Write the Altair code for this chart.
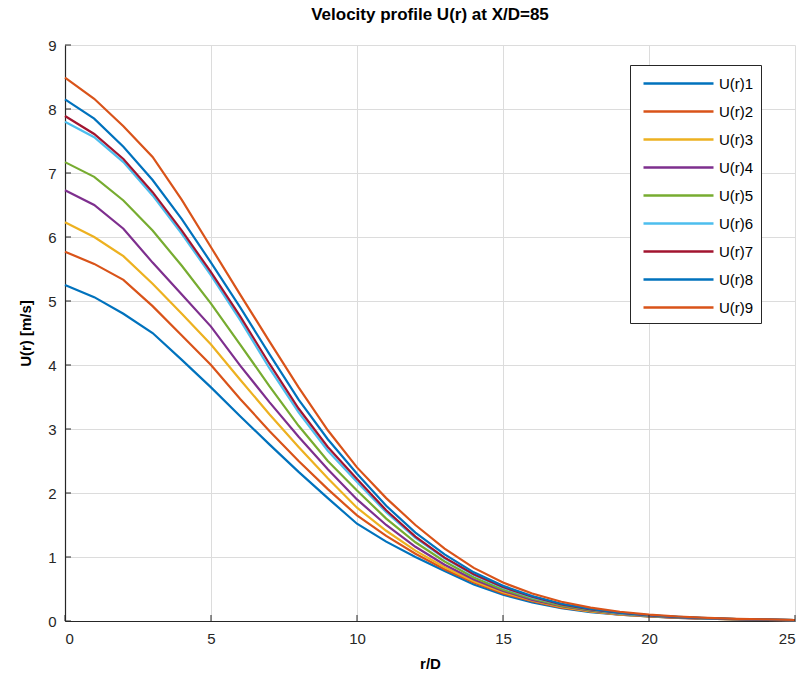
import altair as alt
import pandas as pd

r_vals = list(range(26))
series_names = ["U(r)1", "U(r)2", "U(r)3", "U(r)4", "U(r)5", "U(r)6", "U(r)7", "U(r)8", "U(r)9"]
u1 = [5.25, 5.06, 4.80, 4.50, 4.08, 3.65, 3.20, 2.76, 2.33, 1.92, 1.52, 1.24, 1.00, 0.78, 0.57, 0.41, 0.29, 0.20, 0.14, 0.10, 0.07, 0.05, 0.035, 0.025, 0.018, 0.012]
u2 = [5.77, 5.58, 5.33, 4.92, 4.46, 4.00, 3.47, 2.97, 2.50, 2.06, 1.65, 1.33, 1.05, 0.81, 0.60, 0.43, 0.31, 0.21, 0.15, 0.10, 0.07, 0.05, 0.036, 0.025, 0.018, 0.012]
u3 = [6.23, 6.00, 5.70, 5.27, 4.80, 4.32, 3.77, 3.23, 2.72, 2.23, 1.77, 1.41, 1.10, 0.84, 0.62, 0.45, 0.32, 0.22, 0.15, 0.105, 0.073, 0.052, 0.037, 0.026, 0.018, 0.013]
u4 = [6.73, 6.50, 6.13, 5.60, 5.10, 4.60, 3.99, 3.42, 2.88, 2.37, 1.90, 1.50, 1.16, 0.88, 0.65, 0.47, 0.33, 0.23, 0.16, 0.11, 0.076, 0.054, 0.038, 0.027, 0.019, 0.013]
u5 = [7.17, 6.94, 6.57, 6.10, 5.55, 4.96, 4.32, 3.67, 3.05, 2.50, 2.04, 1.60, 1.23, 0.93, 0.68, 0.49, 0.35, 0.24, 0.17, 0.115, 0.08, 0.056, 0.04, 0.028, 0.02, 0.014]
u6 = [7.80, 7.56, 7.17, 6.65, 6.05, 5.40, 4.70, 3.95, 3.26, 2.66, 2.17, 1.70, 1.30, 0.98, 0.72, 0.52, 0.37, 0.26, 0.18, 0.12, 0.085, 0.06, 0.042, 0.03, 0.021, 0.015]
u7 = [7.89, 7.61, 7.22, 6.70, 6.10, 5.45, 4.76, 4.02, 3.32, 2.72, 2.22, 1.73, 1.32, 0.99, 0.73, 0.53, 0.38, 0.26, 0.18, 0.125, 0.087, 0.061, 0.043, 0.03, 0.021, 0.015]
u8 = [8.15, 7.85, 7.41, 6.89, 6.28, 5.60, 4.90, 4.17, 3.46, 2.84, 2.30, 1.80, 1.38, 1.04, 0.76, 0.55, 0.39, 0.27, 0.19, 0.13, 0.09, 0.063, 0.044, 0.031, 0.022, 0.015]
u9 = [8.49, 8.16, 7.73, 7.25, 6.58, 5.84, 5.10, 4.37, 3.65, 2.98, 2.40, 1.92, 1.50, 1.13, 0.83, 0.60, 0.43, 0.30, 0.21, 0.145, 0.10, 0.07, 0.049, 0.034, 0.024, 0.016]
colors = ["#0072BD", "#D95319", "#EDB120", "#7E2F8E", "#77AC30", "#4DBEEE", "#A2142F", "#0072BD", "#D95319"]
x_ticks = [0, 5, 10, 15, 20, 25]
y_ticks = [0, 1, 2, 3, 4, 5, 6, 7, 8, 9]

all_series = [u1, u2, u3, u4, u5, u6, u7, u8, u9]
rows = []
for name, vals in zip(series_names, all_series):
    for rv, uv in zip(r_vals, vals):
        rows.append({"r": rv, "U": uv, "series": name})
df = pd.DataFrame(rows)

FONT = "Liberation Sans"
W, H = 730, 576

xscale = alt.Scale(domain=[0, 25], nice=False)
yscale = alt.Scale(domain=[0, 9], nice=False)

axis_style = dict(labelFontSize=15, titleFontSize=15, labelFont=FONT, titleFont=FONT,
                  labelColor="#262626", titleColor="#000000", titleFontWeight="bold",
                  domainColor="#262626", domainWidth=1.2, gridColor="#dcdcdc", gridWidth=1,
                  ticks=False, format="d")

lines = alt.Chart(df).mark_line(strokeWidth=2.2, interpolate="linear").encode(
    x=alt.X("r:Q", scale=xscale, title="r/D",
            axis=alt.Axis(values=x_ticks, labelPadding=10, titlePadding=10, **axis_style)),
    y=alt.Y("U:Q", scale=yscale, title="U(r) [m/s]",
            axis=alt.Axis(values=y_ticks, labelPadding=9, titlePadding=14, **axis_style)),
    color=alt.Color("series:N", scale=alt.Scale(domain=series_names, range=colors),
                    legend=alt.Legend(title=None, orient="none", legendX=565, legendY=20,
                                      symbolType="M-0.5,0H6.5", symbolSize=400,
                                      symbolStrokeWidth=2.5, labelFontSize=15,
                                      labelFont=FONT, labelColor="#000000",
                                      labelExpr="datum.label + '\u00a0\u00a0\u00a0'",
                                      strokeColor="#262626", fillColor="#ffffff",
                                      padding=7, rowPadding=8, labelOffset=59)),
)

xt = alt.Chart(pd.DataFrame({"t": x_ticks})).mark_rule(color="#262626", strokeWidth=1).encode(
    x=alt.X("t:Q", scale=xscale), y=alt.value(H), y2=alt.value(H - 6))
yt = alt.Chart(pd.DataFrame({"t": y_ticks})).mark_rule(color="#262626", strokeWidth=1).encode(
    y=alt.Y("t:Q", scale=yscale), x=alt.value(0), x2=alt.value(6))

chart = alt.layer(lines, xt, yt).properties(
    width=W, height=H,
    background="#ffffff",
    title=alt.Title("Velocity profile U(r) at X/D=85", font=FONT, fontSize=17,
                    fontWeight="bold", color="#000000", anchor="middle", offset=14),
    autosize=alt.AutoSizeParams(type="none"),
    padding={"left": 65, "top": 45, "right": 14, "bottom": 70},
).configure_view(stroke=None)

chart.save("out.html", embed_options={"renderer": "svg", "actions": False})
